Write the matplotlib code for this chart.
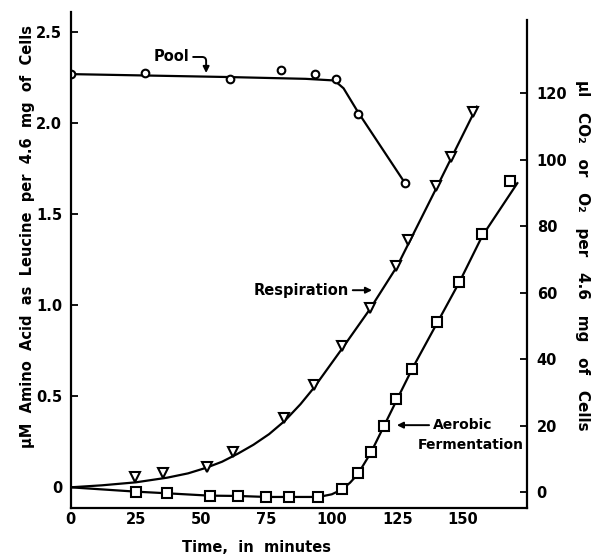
import matplotlib
matplotlib.use("Agg")
import matplotlib.pyplot as plt

plt.rcParams['font.family'] = ['DejaVu Sans']
plt.rcParams['font.weight'] = 'bold'
plt.rcParams['axes.labelweight'] = 'bold'

# amino acid pool (left axis)
pool_t = [0, 28.5, 61, 80.5, 93.5, 101.5, 110, 128]
pool_amino = [2.27, 2.275, 2.24, 2.29, 2.27, 2.24, 2.05, 1.67]
pool_line_t = [0, 30, 60, 90, 101, 104.5, 110, 128]
pool_line = [2.268, 2.26, 2.252, 2.242, 2.233, 2.19, 2.06, 1.67]

# respiration (right axis)
resp_t = [24.5, 35.5, 52.4, 62, 81.8, 93, 104, 114.5, 124.7, 129, 139.7, 145.7, 154.2]
resp = [4.5, 5.9, 7.5, 12, 22.3, 32.4, 44, 55.5, 68, 76, 92, 101, 114.5]
resp_line_t = [0, 12, 25, 37, 45, 52, 58, 64, 70, 76, 82, 88, 93, 104, 114.5, 125, 140, 155.5]
resp_line = [1.5, 2.1, 3.0, 4.4, 5.7, 7.4, 9.2, 11.6, 14.3, 17.5, 21.5, 26.5, 31.3, 43.3, 55, 68, 91.5, 116]

# aerobic fermentation (right axis)
ferm_t = [25, 37, 53.4, 64.2, 75, 83.7, 94.8, 103.8, 110, 115, 120, 124.7, 130.7, 140.3, 148.6, 157.5, 168.2]
ferm = [0.2, -0.3, -1.1, -1.1, -1.4, -1.4, -1.4, 0.9, 5.9, 12.2, 19.9, 28.0, 37.1, 51.1, 63.3, 77.6, 93.6]
ferm_line_t = [0, 25, 37, 53, 64, 75, 84, 95, 100, 104, 107, 110, 115, 120, 125, 131, 140, 149, 157.5, 171]
ferm_line = [1.5, 0.2, -0.3, -1.0, -1.1, -1.4, -1.4, -1.4, -0.6, 0.9, 2.9, 5.5, 12, 20, 28, 37.5, 50.5, 63.5, 77, 93]

x_ticks = [0, 25, 50, 75, 100, 125, 150]
left_ticks = [0, 0.5, 1.0, 1.5, 2.0, 2.5]
left_labels = ['0', '0.5', '1.0', '1.5', '2.0', '2.5']
right_ticks = [0, 20, 40, 60, 80, 100, 120]

fig = plt.figure(figsize=(5.94, 5.55), dpi=100)
ax = fig.add_axes([0.1187, 0.0847, 0.7685, 0.8937])
ax2 = ax.twinx()

lw = 1.6
mk = dict(markerfacecolor='white', markeredgecolor='black', markeredgewidth=1.5, linestyle='none')

ax.plot(pool_line_t, pool_line, color='black', lw=lw)
ax.plot(pool_t, pool_amino, marker='o', markersize=5.5, **mk)

ax2.plot(resp_line_t, resp_line, color='black', lw=lw)
ax2.plot(resp_t, resp, marker='v', markersize=7, **mk)
ax2.plot(ferm_line_t, ferm_line, color='black', lw=lw)
ax2.plot(ferm_t, ferm, marker='s', markersize=6.5, **mk)

ax.set_xlim(0, 174.7)
ax.set_ylim(-0.114, 2.609)
ax2.set_ylim(-4.72, 144.5)

for s in ['top', 'right']:
  ax.spines[s].set_visible(False)
for s in ['top', 'left', 'bottom']:
  ax2.spines[s].set_visible(False)
for a in (ax, ax2):
  for s in a.spines.values():
    s.set_linewidth(1.6)
ax2.spines['right'].set_bounds(-4.72, 142)

ax.set_xticks(x_ticks)
ax.set_yticks(left_ticks)
ax.set_yticklabels(left_labels)
ax2.set_yticks(right_ticks)
ax.tick_params(axis='x', length=0, pad=3, labelsize=10.5)
ax.tick_params(axis='y', direction='in', length=5, width=1.3, pad=6, labelsize=10.5)
ax2.tick_params(axis='y', direction='in', length=5, width=1.3, pad=7, labelsize=10.5)

ax.set_xlabel('Time,  in  minutes', fontsize=10.5, va='center')
ax.xaxis.set_label_coords(0.407, -0.079)
ax.set_ylabel('μM  Amino  Acid  as  Leucine  per  4.6  mg  of  Cells', fontsize=10.5, va='center')
ax.yaxis.set_label_coords(-0.094, 0.548)
ax2.set_ylabel('μl   CO₂   or   O₂   per   4.6   mg   of   Cells', fontsize=11, rotation=270, va='center')
ax2.yaxis.set_label_coords(1.1225, 0.51)

arrow = dict(arrowstyle='-|>', color='black', lw=1.4, mutation_scale=9, shrinkA=1, shrinkB=0)

ax.annotate('Pool', xy=(51.9, 2.274), xytext=(38.5, 2.362), fontsize=10.5, ha='center', va='center',
            arrowprops=dict(arrow, connectionstyle='angle,angleA=0,angleB=90,rad=4'))
ax2.annotate('Respiration', xy=(115.4, 60.8), xytext=(88.2, 60.8), fontsize=10.5, ha='center', va='center',
             arrowprops=arrow)
ax2.annotate('Aerobic', xy=(124.9, 20.2), xytext=(150.2, 20.2), fontsize=10, ha='center', va='center',
             arrowprops=arrow)
ax2.text(153.3, 14.2, 'Fermentation', fontsize=10, ha='center', va='center')

fig.savefig('out.png', dpi=100)
